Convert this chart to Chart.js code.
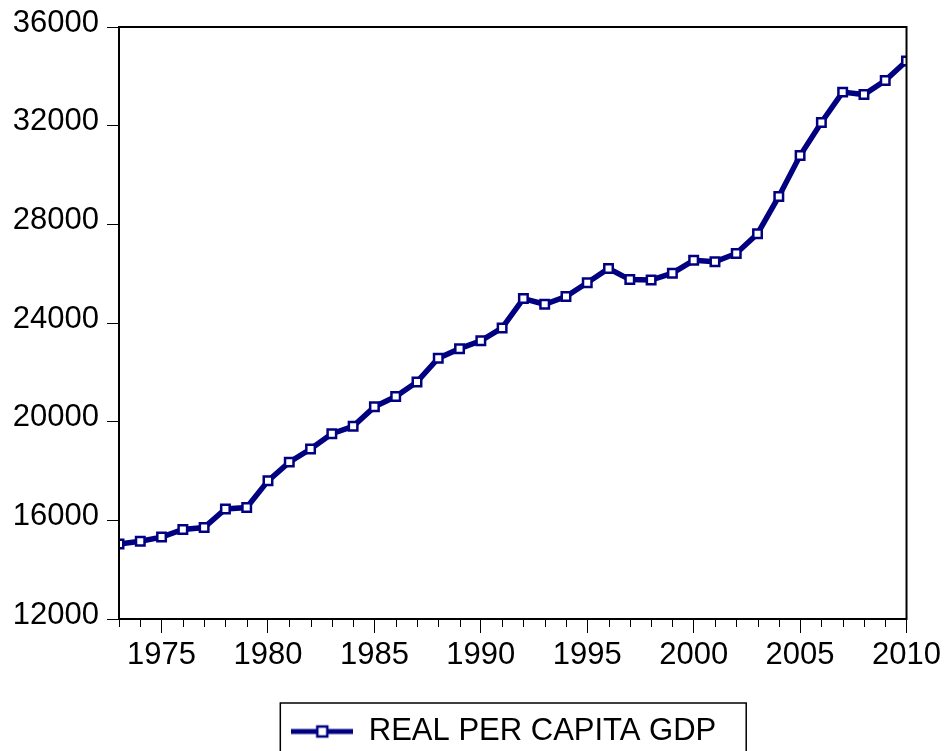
<!DOCTYPE html>
<html>
<head>
<meta charset="utf-8">
<title>Real per capita GDP</title>
<script src="https://cdn.jsdelivr.net/npm/chart.js@4/dist/chart.umd.min.js"></script>
<style>
    html, body { margin: 0; padding: 0; overflow: hidden; background: #fff; }
    #wrap { width: 945px; height: 757px; }
</style>
</head>
<body>
<div id="wrap"><canvas id="gdpChart"></canvas></div>
<script>
// Data
const years = [1973, 1974, 1975, 1976, 1977, 1978, 1979, 1980, 1981, 1982,
    1983, 1984, 1985, 1986, 1987, 1988, 1989, 1990, 1991, 1992,
    1993, 1994, 1995, 1996, 1997, 1998, 1999, 2000, 2001, 2002,
    2003, 2004, 2005, 2006, 2007, 2008, 2009, 2010];
const gdp = [15040, 15150, 15320, 15630, 15710, 16460, 16520, 17600, 18360, 18890,
    19510, 19810, 20600, 21020, 21610, 22570, 22960, 23280, 23800, 24990,
    24760, 25070, 25630, 26210, 25760, 25740, 26020, 26540, 26480, 26820,
    27620, 29130, 30790, 32130, 33360, 33260, 33830, 34620];
const xTickLabels = [1975, 1980, 1985, 1990, 1995, 2000, 2005, 2010];
const yTickLabels = [12000, 16000, 20000, 24000, 28000, 32000, 36000];
const seriesName = 'REAL PER CAPITA GDP';

const navy = '#000080';
const fontFamily = "'Liberation Sans', Arial, sans-serif";

// Legend sample: thick line with a hollow square
const sample = document.createElement('canvas');
sample.width = 62;
sample.height = 16;
const sctx = sample.getContext('2d');
sctx.fillStyle = navy;
sctx.fillRect(0, 5.5, 62, 5);
sctx.fillStyle = '#fff';
sctx.fillRect(26, 3, 10, 10);
sctx.strokeStyle = navy;
sctx.lineWidth = 2.5;
sctx.strokeRect(26, 3, 10, 10);

// Frame round the plot, short yearly ticks, box round the legend
const framePlugin = {
    id: 'frame',
    afterLayout(chart) {
        // legend sits a bit left of the plot centre in the original
        chart.legend.left -= 9;
        chart.legend.right -= 9;
    },
    afterDraw(chart) {
        const ctx = chart.ctx;
        const area = chart.chartArea;
        const xs = chart.scales.x;
        ctx.save();
        ctx.strokeStyle = '#000';
        ctx.lineWidth = 1;
        years.forEach(function (yr) {
            if (yr % 5 === 0) return;
            const px = Math.round(xs.getPixelForValue(yr)) + 0.5;
            ctx.beginPath();
            ctx.moveTo(px, area.bottom);
            ctx.lineTo(px, area.bottom + 8);
            ctx.stroke();
        });
        ctx.lineWidth = 2;
        ctx.strokeRect(area.left, area.top, area.right - area.left, area.bottom - area.top);

        const hit = chart.legend.legendHitBoxes[0];
        if (hit) {
            ctx.lineWidth = 1.5;
            const left = hit.left - 11;
            const right = hit.left + hit.width + 30;
            ctx.strokeRect(left, chart.legend.top - 3, right - left, 100);
        }
        ctx.restore();
    }
};

const ctx = document.getElementById('gdpChart').getContext('2d');
const gdpChart = new Chart(ctx, {
    type: 'line',
    data: {
        datasets: [{
            label: seriesName,
            data: years.map((yr, i) => ({ x: yr, y: gdp[i] })),
            borderColor: navy,
            borderWidth: 5.5,
            tension: 0,
            pointStyle: 'rect',
            pointRadius: 6,
            pointBorderWidth: 2.5,
            pointBorderColor: navy,
            pointBackgroundColor: '#fff',
            clip: 0
        }]
    },
    options: {
        responsive: true,
        maintainAspectRatio: false,
        animation: false,
        layout: { padding: { top: 27, right: 37, left: 0, bottom: 0 } },
        scales: {
            x: {
                type: 'linear',
                min: 1973,
                max: 2010,
                afterBuildTicks: function (scale) {
                    scale.ticks = xTickLabels.map(v => ({ value: v }));
                },
                afterFit: function (scale) { scale.height = 87; },
                grid: { drawOnChartArea: false, tickLength: 14, color: '#000', lineWidth: 1 },
                border: { color: '#000', width: 2 },
                ticks: {
                    autoSkip: false,
                    maxRotation: 0,
                    padding: 4,
                    color: '#000',
                    font: { family: fontFamily, size: 31 },
                    callback: v => String(v)
                }
            },
            y: {
                min: 12000,
                max: 36000,
                afterBuildTicks: function (scale) {
                    scale.ticks = yTickLabels.map(v => ({ value: v }));
                },
                afterFit: function (scale) { scale.width = 119; },
                grid: { drawOnChartArea: false, tickLength: 12, color: '#000', lineWidth: 1 },
                border: { color: '#000', width: 2 },
                ticks: {
                    padding: 8,
                    labelOffset: -4,
                    color: '#000',
                    font: { family: fontFamily, size: 31 },
                    callback: v => String(v)
                }
            }
        },
        plugins: {
            tooltip: { enabled: false },
            legend: {
                position: 'bottom',
                fullSize: false,
                labels: {
                    usePointStyle: true,
                    pointStyle: sample,
                    pointStyleWidth: 62,
                    padding: 10,
                    color: '#000',
                    font: { family: fontFamily, size: 31 }
                }
            }
        }
    },
    plugins: [framePlugin]
});
</script>
</body>
</html>
